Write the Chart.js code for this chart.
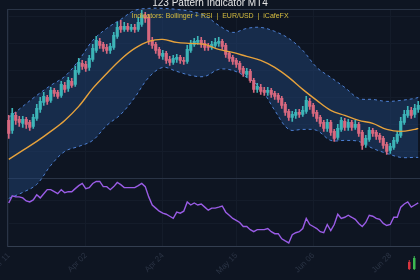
<!DOCTYPE html>
<html>
<head>
<meta charset="utf-8">
<script src="https://cdn.jsdelivr.net/npm/chart.js@4.4.1/dist/chart.umd.min.js"></script>
<style>
  html, body { margin: 0; padding: 0; background: #0e1522; }
  canvas { display: block; background: #0e1522; }
</style>
</head>
<body>
<canvas id="chart" width="420" height="280"></canvas>
<script>
// EUR/USD daily candles
const open = [1.0732,1.0692,1.0752,1.0736,1.0720,1.0736,1.0724,1.0708,1.0740,1.0776,
  1.0804,1.0824,1.0812,1.0852,1.0844,1.0832,1.0872,1.0860,1.0888,1.0876,
  1.0924,1.0960,1.0956,1.0944,1.0976,1.1012,1.1048,1.1036,1.1024,1.1012,
  1.1024,1.1068,1.1108,1.1096,1.1108,1.1096,1.1104,1.1096,1.1116,1.1152,
  1.1144,1.1052,1.1036,1.1016,1.0988,1.1000,1.0976,1.0964,1.0976,1.0984,
  1.0972,1.0968,1.1012,1.1036,1.1044,1.1052,1.1040,1.1028,1.1024,1.1032,
  1.1040,1.1048,1.1032,1.1000,1.0984,1.0972,1.0960,1.0940,1.0916,1.0928,
  1.0892,1.0856,1.0864,1.0852,1.0844,1.0852,1.0840,1.0832,1.0820,1.0796,
  1.0768,1.0744,1.0752,1.0764,1.0756,1.0768,1.0808,1.0792,1.0764,1.0744,
  1.0724,1.0700,1.0724,1.0688,1.0664,1.0696,1.0728,1.0704,1.0724,1.0704,
  1.0716,1.0684,1.0636,1.0656,1.0692,1.0684,1.0672,1.0660,1.0636,1.0612,
  1.0624,1.0648,1.0672,1.0724,1.0752,1.0772,1.0756,1.0776];
const high = [1.0752,1.0780,1.0764,1.0748,1.0748,1.0744,1.0732,1.0756,1.0796,1.0824,
  1.0844,1.0832,1.0864,1.0860,1.0852,1.0888,1.0884,1.0904,1.0900,1.0948,
  1.0980,1.0972,1.0968,1.0992,1.1036,1.1068,1.1060,1.1044,1.1036,1.1040,
  1.1084,1.1124,1.1132,1.1124,1.1120,1.1116,1.1116,1.1144,1.1172,1.1164,
  1.1156,1.1064,1.1044,1.1024,1.1012,1.1008,1.0988,1.0992,1.0996,1.0992,
  1.0984,1.1032,1.1052,1.1060,1.1068,1.1064,1.1052,1.1040,1.1048,1.1060,
  1.1064,1.1056,1.1040,1.1008,1.0992,1.0980,1.0968,1.0948,1.0940,1.0936,
  1.0900,1.0880,1.0876,1.0864,1.0864,1.0860,1.0848,1.0840,1.0828,1.0804,
  1.0776,1.0768,1.0776,1.0776,1.0788,1.0828,1.0820,1.0800,1.0772,1.0752,
  1.0732,1.0736,1.0732,1.0696,1.0716,1.0744,1.0740,1.0736,1.0732,1.0732,
  1.0724,1.0692,1.0672,1.0704,1.0700,1.0692,1.0680,1.0668,1.0644,1.0640,
  1.0664,1.0688,1.0744,1.0772,1.0788,1.0784,1.0796,1.0808];
const low = [1.0660,1.0680,1.0716,1.0708,1.0704,1.0700,1.0692,1.0700,1.0732,1.0764,
  1.0792,1.0796,1.0804,1.0828,1.0820,1.0824,1.0844,1.0848,1.0864,1.0868,
  1.0916,1.0936,1.0928,1.0932,1.0968,1.1004,1.1020,1.1008,1.1000,1.1000,
  1.1016,1.1060,1.1084,1.1088,1.1088,1.1088,1.1084,1.1088,1.1108,1.1124,
  1.1036,1.1020,1.1000,1.0980,1.0976,1.0960,1.0952,1.0956,1.0964,1.0960,
  1.0956,1.0960,1.1004,1.1028,1.1036,1.1024,1.1012,1.1012,1.1016,1.1024,
  1.1028,1.1016,1.0984,1.0968,1.0956,1.0944,1.0924,1.0908,1.0904,1.0884,
  1.0844,1.0844,1.0836,1.0832,1.0832,1.0824,1.0816,1.0804,1.0780,1.0752,
  1.0732,1.0728,1.0740,1.0744,1.0748,1.0760,1.0776,1.0748,1.0728,1.0708,
  1.0688,1.0688,1.0672,1.0648,1.0656,1.0688,1.0692,1.0692,1.0692,1.0696,
  1.0668,1.0616,1.0624,1.0648,1.0668,1.0656,1.0644,1.0620,1.0596,1.0600,
  1.0616,1.0640,1.0664,1.0716,1.0744,1.0740,1.0744,1.0764];
const close = [1.0680,1.0760,1.0732,1.0724,1.0736,1.0716,1.0704,1.0744,1.0780,1.0808,
  1.0828,1.0808,1.0852,1.0840,1.0828,1.0876,1.0856,1.0892,1.0872,1.0932,
  1.0964,1.0948,1.0940,1.0980,1.1020,1.1052,1.1032,1.1020,1.1012,1.1028,
  1.1072,1.1104,1.1096,1.1108,1.1096,1.1104,1.1096,1.1124,1.1152,1.1140,
  1.1052,1.1032,1.1012,1.0992,1.1000,1.0972,1.0964,1.0980,1.0984,1.0972,
  1.0968,1.1016,1.1040,1.1048,1.1052,1.1036,1.1024,1.1024,1.1036,1.1044,
  1.1048,1.1028,1.0996,1.0980,1.0968,1.0956,1.0936,1.0920,1.0928,1.0892,
  1.0856,1.0868,1.0848,1.0844,1.0852,1.0836,1.0828,1.0816,1.0792,1.0764,
  1.0744,1.0756,1.0764,1.0756,1.0772,1.0812,1.0788,1.0760,1.0740,1.0720,
  1.0700,1.0724,1.0684,1.0660,1.0700,1.0732,1.0704,1.0724,1.0704,1.0716,
  1.0680,1.0632,1.0660,1.0692,1.0680,1.0668,1.0656,1.0632,1.0608,1.0628,
  1.0652,1.0676,1.0728,1.0756,1.0772,1.0752,1.0780,1.0792];

// RSI(14)
const rsi = [58.2,64.5,63.6,63.6,62.7,60.0,59.1,60.9,65.5,62.7,
  66.4,70.0,70.0,68.2,66.4,70.0,67.3,68.2,68.2,70.9,
  73.6,75.5,70.9,71.8,75.5,77.3,77.3,72.7,72.7,70.0,
  72.7,76.4,74.5,71.8,71.8,71.8,71.8,73.6,75.5,72.7,
  63.6,56.4,53.6,50.9,49.1,48.2,46.4,44.5,50.0,49.1,
  50.9,59.1,56.4,58.2,56.4,57.3,54.5,51.8,53.6,53.6,
  54.5,55.5,50.0,47.3,44.5,42.7,40.9,37.3,37.3,34.5,
  32.7,34.5,34.5,34.5,35.5,32.7,30.9,30.9,26.4,24.5,
  22.7,30.0,31.8,32.7,35.5,44.5,39.1,37.3,35.5,32.7,
  31.8,39.1,33.6,39.1,48.2,44.5,45.5,47.3,45.5,43.6,
  40.0,37.3,40.9,47.3,46.4,44.5,43.6,40.0,38.2,39.1,
  45.5,45.5,54.5,57.3,59.1,54.5,56.4,58.2];

// Bollinger(20,2) and its middle line, read every 4th candle
const bandIdx = [0,4,8,12,16,20,24,28,32,36,40,44,48,52,56,60,64,68,72,76,80,84,88,92,96,100,104,108,112,116,117];
const upper = [1.0744,1.0788,1.0832,1.0872,1.0908,1.0972,1.1052,1.1100,1.1136,1.1172,1.1180,1.1180,1.1176,1.1168,1.1152,1.1112,
  1.1084,1.1100,1.1104,1.1088,1.1060,1.1012,1.0944,1.0904,1.0864,1.0820,1.0816,1.0808,1.0812,1.0820,1.0824];
const lower = [1.0420,1.0444,1.0476,1.0552,1.0608,1.0628,1.0652,1.0712,1.0756,1.0824,1.0904,1.0944,1.0928,1.0912,1.0908,1.0936,
  1.0932,1.0904,1.0860,1.0772,1.0696,1.0696,1.0692,1.0652,1.0652,1.0648,1.0620,1.0600,1.0584,1.0584,1.0584];
const ma = [1.0576,1.0612,1.0648,1.0688,1.0732,1.0788,1.0860,1.0920,1.0976,1.1020,1.1048,1.1056,1.1044,1.1040,1.1036,1.1016,
  1.1004,1.0988,1.0972,1.0944,1.0904,1.0856,1.0812,1.0772,1.0752,1.0732,1.0720,1.0696,1.0688,1.0696,1.0700];

const tickIdx = [0, 22, 44, 65, 87, 109];
const priceTicks = [1.05, 1.0608, 1.0716, 1.0824, 1.0932, 1.1040, 1.1148, 1.1176];
const rsiTicks = [20, 40, 60, 80];

const labels = open.map((_, i) => new Date(2024, 2, 11 + i)
  .toLocaleDateString('en-US', { month: 'short', day: '2-digit' }));

const UP = '#3db5b8', DOWN = '#d8687f';
const colors = close.map((c, i) => c >= open[i] ? UP : DOWN);
const band = arr => bandIdx.map((k, j) => ({ x: labels[k], y: arr[j] }));

const edge = '#2a3446', grid = '#141c2a';
const gridColor = (lo, hi) => ctx => (ctx.tick && (ctx.tick.value === lo || ctx.tick.value === hi)) ? edge : grid;
const FONT = "'Liberation Sans', Arial, sans-serif";
Chart.defaults.font.family = FONT;

// subtitle sits over the plot, and a small candle badge in the corner
const overlay = {
  id: 'overlay',
  afterDraw(chart) {
    const { ctx, width } = chart;
    ctx.save();
    ctx.font = '7px ' + FONT;
    ctx.fillStyle = '#d6bd3e';
    ctx.textAlign = 'center';
    ctx.textBaseline = 'middle';
    ctx.fillText('Indicators: Bollinger + RSI  |  EUR/USD  |  iCafeFX', width / 2, 16);
    ctx.fillStyle = '#d8343f';
    ctx.fillRect(408, 262, 2.5, 7);
    ctx.fillRect(408.75, 260, 1, 10);
    ctx.fillStyle = '#3dbb52';
    ctx.fillRect(413, 258, 2.5, 11);
    ctx.fillRect(413.75, 256, 1, 14);
    ctx.restore();
  }
};

new Chart(document.getElementById('chart'), {
  type: 'bar',
  data: {
    labels: labels,
    datasets: [
      { type: 'line', label: 'Upper', data: band(upper), yAxisID: 'y', borderColor: '#4d80d4', borderWidth: 1,
        borderDash: [3, 3], pointRadius: 0, tension: 0.35, fill: '+1', backgroundColor: 'rgba(34,70,124,0.45)',
        clip: false, order: 6 },
      { type: 'line', label: 'Lower', data: band(lower), yAxisID: 'y', borderColor: '#4d80d4', borderWidth: 1,
        borderDash: [3, 3], pointRadius: 0, tension: 0.35, fill: false, clip: false, order: 5 },
      { label: 'Wick', data: low.map((l, i) => [l, high[i]]), yAxisID: 'y', backgroundColor: colors,
        barThickness: 1, grouped: false, order: 4 },
      { label: 'Body', data: open.map((o, i) => [o, close[i]]), yAxisID: 'y', backgroundColor: colors,
        barThickness: 2.5, grouped: false, order: 3 },
      { type: 'line', label: 'MA', data: band(ma), yAxisID: 'y', borderColor: '#e6a23c', borderWidth: 1.4,
        pointRadius: 0, tension: 0.35, order: 2 },
      { type: 'line', label: 'RSI', data: rsi, yAxisID: 'yr', borderColor: '#9a5ce6', borderWidth: 1.4,
        pointRadius: 0, tension: 0, order: 1 }
    ]
  },
  options: {
    responsive: false,
    animation: false,
    layout: { padding: 0 },
    plugins: {
      legend: { display: false },
      tooltip: { enabled: false },
      title: { display: true, text: '123 Pattern Indicator MT4', color: '#e6e6e6',
        font: { size: 10, weight: 'normal' }, padding: { top: -2.5, bottom: -0.1 } }
    },
    scales: {
      x: {
        offset: true,
        grid: { color: grid, offset: false, drawTicks: false },
        border: { color: '#333e50' },
        ticks: { color: '#2a3344', font: { size: 8 }, minRotation: 45, maxRotation: 45, autoSkip: false, padding: 5 },
        afterBuildTicks: s => { s.ticks = tickIdx.map(v => ({ value: v })); },
        afterFit: s => { s.height = 34; s.paddingLeft = 0; s.paddingRight = 0; }
      },
      yr: {
        position: 'left', stack: 'pane', stackWeight: 1, min: 20, max: 80,
        grid: { color: gridColor(20, 80), drawTicks: false },
        border: { color: edge },
        ticks: { display: false },
        afterBuildTicks: s => { s.ticks = rsiTicks.map(v => ({ value: v })); },
        afterFit: s => { s.width = 7; }
      },
      y: {
        position: 'left', stack: 'pane', stackWeight: 2.5, min: 1.05, max: 1.1176,
        grid: { color: gridColor(1.05, 1.1176), drawTicks: false },
        border: { color: edge },
        ticks: { display: false },
        afterBuildTicks: s => { s.ticks = priceTicks.map(v => ({ value: v })); },
        afterFit: s => { s.width = 7; }
      }
    }
  },
  plugins: [overlay]
});
</script>
</body>
</html>
